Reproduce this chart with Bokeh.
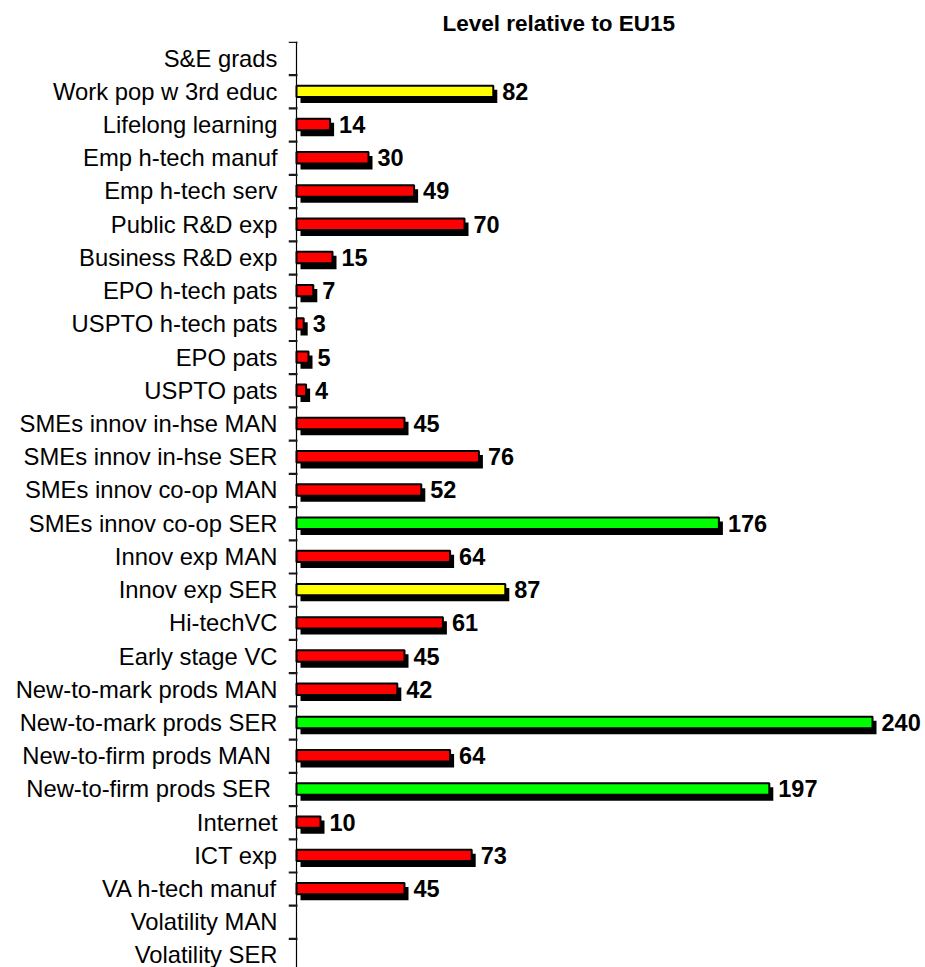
from bokeh.plotting import figure
from bokeh.models import Range1d, FixedTicker, ColumnDataSource
from bokeh.core.properties import value
from bokeh.embed import file_html
from bokeh.resources import INLINE

categories = [
    "S&E grads", "Work pop w 3rd educ", "Lifelong learning", "Emp h-tech manuf",
    "Emp h-tech serv", "Public R&D exp", "Business R&D exp", "EPO h-tech pats",
    "USPTO h-tech pats", "EPO pats", "USPTO pats", "SMEs innov in-hse MAN",
    "SMEs innov in-hse SER", "SMEs innov co-op MAN", "SMEs innov co-op SER",
    "Innov exp MAN", "Innov exp SER", "Hi-techVC", "Early stage VC",
    "New-to-mark prods MAN", "New-to-mark prods SER", "New-to-firm  prods MAN",
    "New-to-firm  prods SER", "Internet", "ICT exp", "VA h-tech manuf",
    "Volatility MAN", "Volatility SER",
]
values = [None, 82, 14, 30, 49, 70, 15, 7, 3, 5, 4, 45, 76, 52, 176, 64, 87,
          61, 45, 42, 240, 64, 197, 10, 73, 45, None, None]
levels = ["", "mid", "low", "low", "low", "low", "low", "low", "low", "low", "low",
          "low", "low", "low", "high", "low", "mid", "low", "low", "low", "high",
          "low", "high", "low", "low", "low", "", ""]
title_text = "Level relative to EU15"

level_colors = {"low": "#FF0000", "mid": "#FFFF00", "high": "#00FF00"}

W, H = 925, 967
left_b, right_b, top_b = 288, 2, 41
frame_w = W - left_b - right_b
frame_h = H - top_b
px_per_unit = 2.40
pad_px = 8                      # room left of the axis line for tick marks
ux = 1.0 / px_per_unit          # data units per px (x)
x_start = -pad_px * ux
x_end = x_start + frame_w * ux
px_per_cat = 33.22
uy = 1.0 / px_per_cat           # data units per px (y)
y_top = -0.5
y_bot = y_top + frame_h * uy

idx = [i for i, v in enumerate(values) if v is not None]
vals = [values[i] for i in idx]
src = ColumnDataSource(dict(
    y=idx,
    v=vals,
    lbl=[str(v) for v in vals],
    color=[level_colors[levels[i]] for i in idx],
    sy=[i + 5 * uy for i in idx],
    sl=[4 * ux for _ in idx],
    sr=[v + 4 * ux for v in vals],
))

bounds = [i - 0.5 for i in range(len(categories) + 1)]
tick_src = ColumnDataSource(dict(
    y=[b + 0.5 * uy for b in bounds],
    x0=[-8 * ux for _ in bounds],
    x1=[1.0 * ux for _ in bounds],
))

p = figure(width=W, height=H, output_backend="svg", toolbar_location=None,
           x_range=Range1d(x_start, x_end), y_range=Range1d(y_bot, y_top),
           min_border_left=left_b, min_border_right=right_b,
           min_border_top=top_b, min_border_bottom=0,
           title=title_text)
p.title.text_font = "Liberation Sans"
p.title.text_font_size = "22.5px"
p.title.text_font_style = "bold"
p.title.align = "left"
p.title.offset = 154
p.title.standoff = 12
p.title.text_color = "black"

# axis line and category boundary ticks
p.segment(x0=0, y0=y_top, x1=0, y1=y_bot, line_color="black", line_width=1.2)
p.hbar(y="y", left="x0", right="x1", height=2.2 * uy, source=tick_src,
       fill_color="#1a1a1a", line_color=None)

bar_h = 11.4 * uy
shadow_h = 13.4 * uy
p.hbar(y="sy", left="sl", right="sr", height=shadow_h, source=src,
       fill_color="black", line_color=None)
p.hbar(y="y", left=0, right="v", height=bar_h, source=src,
       fill_color="color", line_color="black", line_width=2)
p.text(x="v", y="y", text="lbl", source=src, x_offset=9,
       text_font=value("Liberation Sans"), text_font_size="23.5px",
       text_font_style="bold", text_baseline="middle", text_align="left",
       text_color="black")

p.xaxis.visible = False
p.xgrid.visible = False
p.ygrid.visible = False
p.outline_line_color = None
p.background_fill_color = "white"
p.border_fill_color = "white"

ya = p.yaxis[0]
ya.ticker = FixedTicker(ticks=list(range(len(categories))))
ya.major_label_overrides = {i: c for i, c in enumerate(categories)}
ya.major_label_text_font = "Liberation Sans"
ya.major_label_text_font_size = "23.8px"
ya.major_label_text_color = "black"
ya.major_tick_line_color = None
ya.minor_tick_line_color = None
ya.major_tick_out = 0
ya.major_tick_in = 0
ya.minor_tick_out = 0
ya.minor_tick_in = 0
ya.axis_line_color = None
ya.major_label_standoff = 11

open("out.html", "w").write(file_html(p, INLINE))
